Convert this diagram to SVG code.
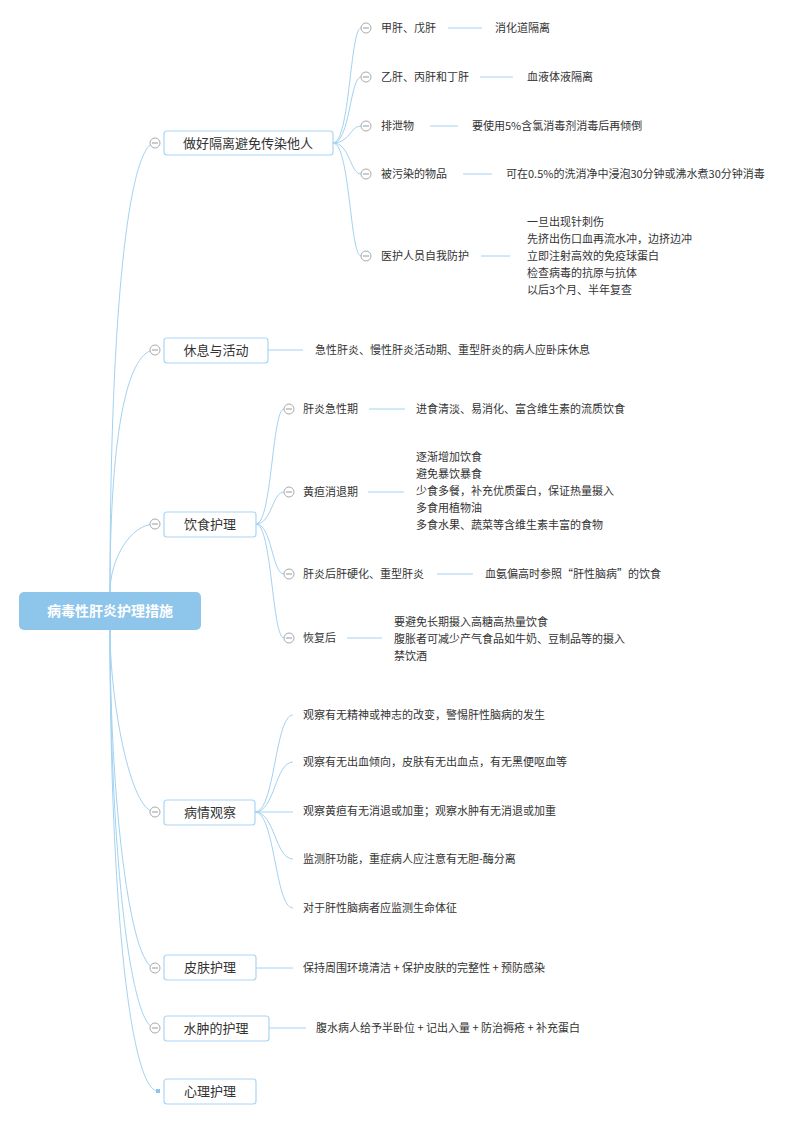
<svg xmlns="http://www.w3.org/2000/svg" width="800" height="1124" viewBox="0 0 800 1124">
<style>
text{font-family:"Noto Sans CJK SC","Liberation Sans",sans-serif;fill:#333;}
.t{font-size:11px;}
.l1{font-size:13px;text-anchor:middle;}
.b{fill:#fff;stroke:#a9d6f5;stroke-width:1.2;}
.c{fill:none;stroke:#a3d2f2;stroke-width:1;}
.k{fill:#fff;stroke:#aaa;stroke-width:1;}
.km{stroke:#999;stroke-width:1;}
</style>
<defs>
<g id="col"><circle r="5" class="k"/><line x1="-3" y1="0" x2="3" y2="0" class="km"/></g>
</defs>
<rect width="800" height="1124" fill="#fff"/>
<g id="connectors">
<path class="c" d="M110 592 C110 300 130 143 155 143"/>
<path class="c" d="M110 592 C110 420 130 350 155 350"/>
<path class="c" d="M110 592 C110 560 130 524 155 524"/>
<path class="c" d="M110 630 C110 700 130 812 155 812"/>
<path class="c" d="M110 630 C110 800 130 968 155 968"/>
<path class="c" d="M110 630 C110 850 130 1028 155 1028"/>
<path class="c" d="M110 630 C110 900 130 1091 158 1091"/>
<path class="c" d="M333 143 C350 143 350 28 361 28"/>
<path class="c" d="M333 143 C350 143 350 77 361 77"/>
<path class="c" d="M333 143 C350 143 350 126 361 126"/>
<path class="c" d="M333 143 C350 143 350 174 361 174"/>
<path class="c" d="M333 143 C350 143 350 256 361 256"/>
<path class="c" d="M448 28H482M480 77H513M430 126H458M463 174H492M481 256H510"/>
<path class="c" d="M268 350H303"/>
<path class="c" d="M256 524 C272 524 272 409 284 409"/>
<path class="c" d="M256 524 C272 524 272 492 284 492"/>
<path class="c" d="M256 524 C272 524 272 574 284 574"/>
<path class="c" d="M256 524 C272 524 272 638 284 638"/>
<path class="c" d="M369 409H405M368 492H404M437 574H473M347 638H382"/>
<path class="c" d="M255 812 C275 812 275 715 293 715"/>
<path class="c" d="M255 812 C275 812 275 762 293 762"/>
<path class="c" d="M255 812H293"/>
<path class="c" d="M255 812 C275 812 275 859 293 859"/>
<path class="c" d="M255 812 C275 812 275 908 293 908"/>
<path class="c" d="M256 968H293M269 1028H306"/>
</g>
<g id="root"><rect x="19" y="592" width="182" height="38" rx="5" fill="#8ec5ea"/><text x="110" y="616" font-size="14" font-weight="bold" text-anchor="middle" style="fill:#fff">病毒性肝炎护理措施</text></g>
<g id="n1"><use href="#col" x="155" y="143"/><rect class="b" x="164" y="131" width="169" height="24" rx="3"/><text class="l1" x="248" y="148">做好隔离避免传染他人</text></g>
<g id="n1a"><use href="#col" x="366" y="28"/><text class="t" x="381" y="32">甲肝、戊肝</text><text class="t" x="495" y="32">消化道隔离</text></g>
<g id="n1b"><use href="#col" x="366" y="77"/><text class="t" x="381" y="81">乙肝、丙肝和丁肝</text><text class="t" x="527" y="81">血液体液隔离</text></g>
<g id="n1c"><use href="#col" x="366" y="126"/><text class="t" x="381" y="130">排泄物</text><text class="t" x="472" y="130">要使用5%含氯消毒剂消毒后再倾倒</text></g>
<g id="n1d"><use href="#col" x="366" y="174"/><text class="t" x="381" y="178">被污染的物品</text><text class="t" x="506" y="178">可在0.5%的洗消净中浸泡30分钟或沸水煮30分钟消毒</text></g>
<g id="n1e"><use href="#col" x="366" y="256"/><text class="t" x="381" y="260">医护人员自我防护</text>
<text class="t" x="527" y="226">一旦出现针刺伤</text><text class="t" x="527" y="243">先挤出伤口血再流水冲，边挤边冲</text><text class="t" x="527" y="260">立即注射高效的免疫球蛋白</text><text class="t" x="527" y="277">检查病毒的抗原与抗体</text><text class="t" x="527" y="294">以后3个月、半年复查</text></g>
<g id="n2"><use href="#col" x="155" y="350"/><rect class="b" x="164" y="338" width="104" height="25" rx="3"/><text class="l1" x="216" y="355">休息与活动</text><text class="t" x="315" y="354">急性肝炎、慢性肝炎活动期、重型肝炎的病人应卧床休息</text></g>
<g id="n3"><use href="#col" x="155" y="524"/><rect class="b" x="164" y="512" width="92" height="25" rx="3"/><text class="l1" x="210" y="529">饮食护理</text></g>
<g id="n3a"><use href="#col" x="289" y="409"/><text class="t" x="303" y="413">肝炎急性期</text><text class="t" x="416" y="413">进食清淡、易消化、富含维生素的流质饮食</text></g>
<g id="n3b"><use href="#col" x="289" y="492"/><text class="t" x="303" y="496">黄疸消退期</text>
<text class="t" x="416" y="461">逐渐增加饮食</text><text class="t" x="416" y="478">避免暴饮暴食</text><text class="t" x="416" y="495">少食多餐，补充优质蛋白，保证热量摄入</text><text class="t" x="416" y="512">多食用植物油</text><text class="t" x="416" y="529">多食水果、蔬菜等含维生素丰富的食物</text></g>
<g id="n3c"><use href="#col" x="289" y="574"/><text class="t" x="303" y="578">肝炎后肝硬化、重型肝炎</text><text class="t" x="485" y="578">血氨偏高时参照“肝性脑病”的饮食</text></g>
<g id="n3d"><use href="#col" x="289" y="638"/><text class="t" x="303" y="642">恢复后</text>
<text class="t" x="394" y="626">要避免长期摄入高糖高热量饮食</text><text class="t" x="394" y="643">腹胀者可减少产气食品如牛奶、豆制品等的摄入</text><text class="t" x="394" y="660">禁饮酒</text></g>
<g id="n4"><use href="#col" x="155" y="812"/><rect class="b" x="164" y="800" width="91" height="25" rx="3"/><text class="l1" x="210" y="817">病情观察</text>
<text class="t" x="303" y="719">观察有无精神或神志的改变，警惕肝性脑病的发生</text>
<text class="t" x="303" y="766">观察有无出血倾向，皮肤有无出血点，有无黑便呕血等</text>
<text class="t" x="303" y="815">观察黄疸有无消退或加重；观察水肿有无消退或加重</text>
<text class="t" x="303" y="863">监测肝功能，重症病人应注意有无胆-酶分离</text>
<text class="t" x="303" y="912">对于肝性脑病者应监测生命体征</text></g>
<g id="n5"><use href="#col" x="155" y="968"/><rect class="b" x="164" y="955" width="92" height="25" rx="3"/><text class="l1" x="210" y="972">皮肤护理</text><text class="t" x="303" y="972">保持周围环境清洁 + 保护皮肤的完整性 + 预防感染</text></g>
<g id="n6"><use href="#col" x="155" y="1028"/><rect class="b" x="164" y="1016" width="105" height="25" rx="3"/><text class="l1" x="216" y="1033">水肿的护理</text><text class="t" x="316" y="1032">腹水病人给予半卧位 + 记出入量 + 防治褥疮 + 补充蛋白</text></g>
<g id="n7"><rect x="156" y="1089" width="4" height="4" fill="#8ec5ea"/><rect class="b" x="164" y="1079" width="92" height="25" rx="3"/><text class="l1" x="210" y="1096">心理护理</text></g>
</svg>
